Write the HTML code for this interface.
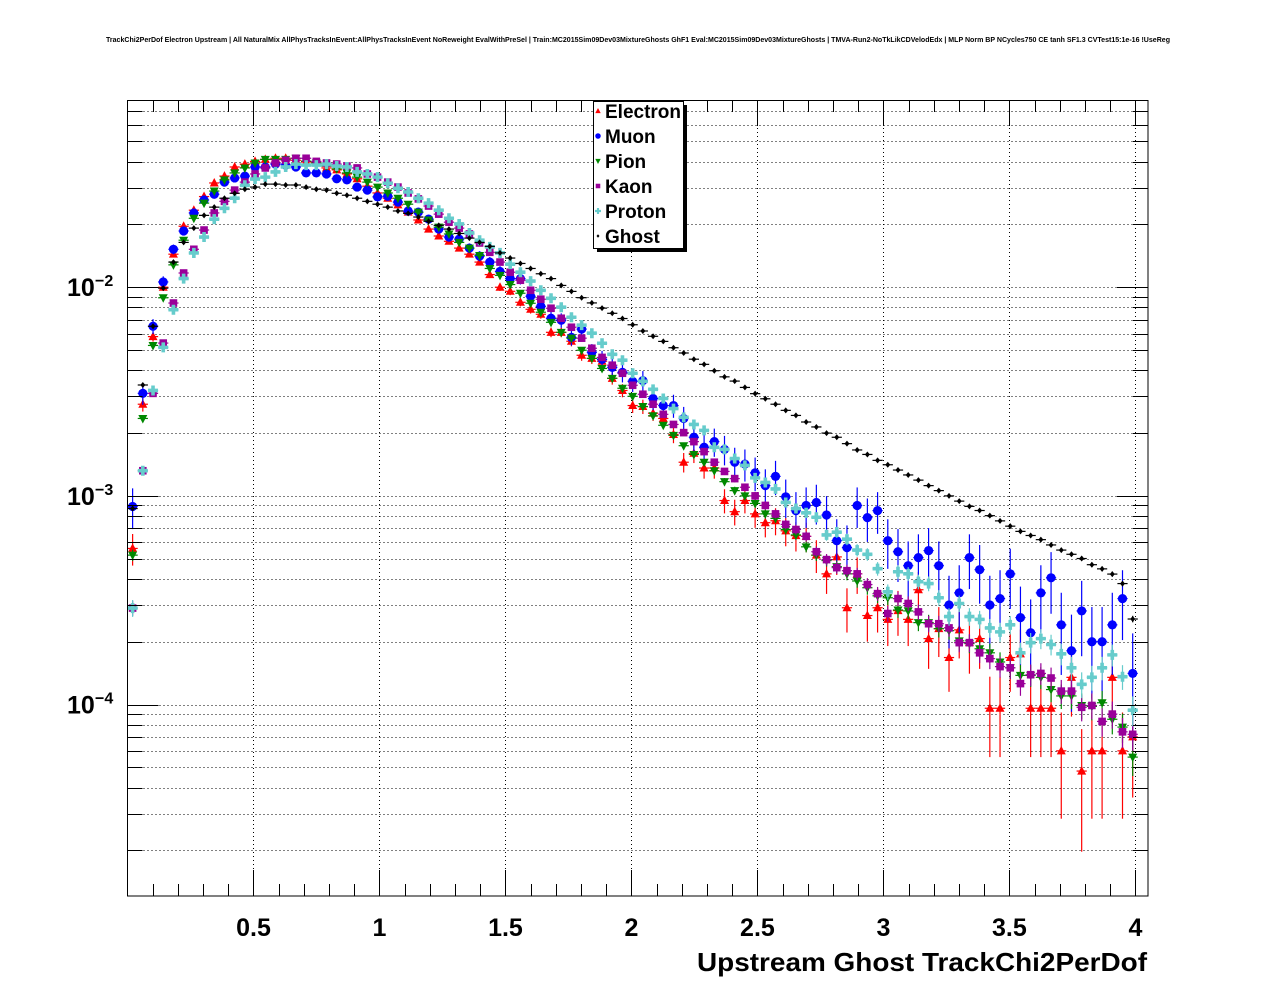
<!DOCTYPE html>
<html><head><meta charset="utf-8"><style>
html,body{margin:0;padding:0;background:#fff}
svg{display:block}
text{font-family:"Liberation Sans",Arial,sans-serif;font-weight:bold}
</style></head><body>
<svg id="c" width="1276" height="996" viewBox="0 0 1276 996" xmlns="http://www.w3.org/2000/svg">
<rect width="1276" height="996" fill="#fff"/>
<text x="106" y="42" font-size="7" textLength="1064" lengthAdjust="spacingAndGlyphs">TrackChi2PerDof Electron Upstream | All NaturalMix AllPhysTracksInEvent:AllPhysTracksInEvent NoReweight EvalWithPreSel | Train:MC2015Sim09Dev03MixtureGhosts GhF1 Eval:MC2015Sim09Dev03MixtureGhosts | TMVA-Run2-NoTkLikCDVelodEdx | MLP Norm BP NCycles750 CE tanh SF1.3 CVTest15:1e-16 !UseReg</text>
<g id="grid"></g>
<g id="data"></g>
<rect x="127.5" y="100.5" width="1020.5" height="795.5" fill="none" stroke="#000" stroke-width="1"/>
<g id="axes"></g>
<text x="1147" y="971" font-size="26" text-anchor="end" textLength="450" lengthAdjust="spacingAndGlyphs">Upstream Ghost TrackChi2PerDof</text>
<g id="legend"></g>
</svg>
<script>
const binStart = 0.0203;
const binWidth = 0.0405;
const seriesNames = ["Electron","Muon","Pion","Kaon","Proton","Ghost"];
const electron = [5.6e-4,2.75e-3,5.8e-3,.0100,.0144,.0196,.0234,.0272,.0316,.0341,.0377,.0389,.0401,.041,.0415,.0415,.0406,.0398,.0394,.0373,.0365,.0349,.0331,.0305,.0283,.0267,.0248,.0229,.021,.0190,.0176,.0166,.0154,.0144,.0132,.0115,.0100,.00956,.00847,.00784,.00742,.00608,.00608,.00551,.00472,.00456,.00442,.00366,.0032,.00271,.00268,.00249,.00235,.00197,.00145,.0016,.00136,.00136,9.5e-4,8.4e-4,9.5e-4,8.2e-4,7.44e-4,7.6e-4,6.8e-4,6.45e-4,6.4e-4,5.2e-4,4.23e-4,5.1e-4,2.91e-4,4.23e-4,2.67e-4,2.91e-4,2.56e-4,2.82e-4,2.56e-4,3.55e-4,2.07e-4,2.31e-4,1.68e-4,2.28e-4,1.98e-4,2.07e-4,9.6e-5,9.6e-5,1.68e-4,1.75e-4,9.6e-5,9.6e-5,9.6e-5,6.0e-5,1.35e-4,4.8e-5,6.0e-5,6.0e-5,1.35e-4,6.0e-5,7.0e-5];
const muon = [8.9e-4,3.1e-3,6.5e-3,.0106,.0152,.0186,.0227,.0262,.0279,.0319,.0334,.0341,.0377,.0377,.0389,.0385,.0377,.0353,.0353,.0349,.0331,.0327,.0302,.0292,.0271,.0273,.0256,.0232,.0229,.0212,.0190,.0174,.0170,.0154,.0141,.0132,.0119,.0110,.0110,.00905,.0081,.0071,.00695,.00575,.0063,.00488,.00451,.00413,.00391,.00354,.00357,.00293,.00271,.00271,.00235,.00191,.00171,.00182,.00167,.00145,.00142,.00129,.00112,.00124,9.9e-4,8.5e-4,9.0e-4,9.3e-4,8.1e-4,6.1e-4,5.65e-4,9.0e-4,7.87e-4,8.5e-4,6.1e-4,5.4e-4,4.63e-4,5.06e-4,5.47e-4,4.63e-4,3.0e-4,3.43e-4,5.06e-4,4.43e-4,3.0e-4,3.22e-4,4.23e-4,2.61e-4,2.21e-4,3.43e-4,4.05e-4,2.41e-4,1.81e-4,2.81e-4,2.0e-4,2.0e-4,2.41e-4,3.22e-4,1.41e-4];
const pion = [5.2e-4,2.35e-3,5.26e-3,.0089,.0128,.0168,.0214,.0253,.0289,.0327,.0353,.0373,.0394,.041,.041,.041,.0415,.0402,.0394,.0381,.0369,.0353,.0337,.0319,.0302,.0283,.0267,.025,.0229,.021,.0194,.018,.0164,.0154,.0142,.0123,.0114,.0103,.00936,.00838,.00759,.00679,.00608,.0057,.00499,.00456,.00408,.00366,.00328,.0030,.00268,.00242,.00218,.00195,.00174,.00158,.00145,.00132,.00117,.00106,.0010,9.2e-4,8.2e-4,7.8e-4,6.9e-4,6.5e-4,5.7e-4,5.2e-4,4.9e-4,4.58e-4,4.23e-4,3.91e-4,3.63e-4,3.32e-4,3.25e-4,2.84e-4,2.81e-4,2.47e-4,2.47e-4,2.31e-4,2.26e-4,2.02e-4,1.96e-4,1.85e-4,1.77e-4,1.6e-4,1.5e-4,1.38e-4,1.38e-4,1.35e-4,1.18e-4,1.1e-4,1.1e-4,9.9e-5,9.8e-5,1.02e-4,8.5e-5,7.8e-5,5.6e-5];
const kaon = [2.9e-4,1.32e-3,3.1e-3,.0054,.0084,.0117,.0152,.0188,.0227,.0258,.0292,.0319,.0349,.0373,.0394,.0406,.0415,.0415,.0401,.0394,.0389,.0381,.0373,.0349,.0337,.0319,.0302,.0283,.0265,.0245,.0224,.0205,.0192,.018,.0163,.0147,.0132,.0118,.0108,.00967,.00876,.00793,.0071,.00643,.0057,.0051,.00461,.00423,.00387,.00339,.00307,.00275,.00246,.0022,.00201,.00182,.00163,.00145,.00131,.00121,.0011,.0010,9.0e-4,8.2e-4,7.3e-4,6.9e-4,6.4e-4,5.4e-4,4.95e-4,4.53e-4,4.38e-4,4.23e-4,3.76e-4,3.4e-4,2.73e-4,3.22e-4,3.05e-4,2.78e-4,2.44e-4,2.44e-4,2.33e-4,1.98e-4,1.98e-4,1.77e-4,1.66e-4,1.52e-4,1.5e-4,1.26e-4,1.39e-4,1.41e-4,1.34e-4,1.16e-4,1.16e-4,9.7e-5,9.9e-5,8.3e-5,9.0e-5,7.4e-5,7.2e-5];
const proton = [2.9e-4,1.32e-3,3.2e-3,5.15e-3,7.8e-3,.0110,.0146,.0174,.0212,.0239,.0267,.0308,.0330,.0337,.0357,.0377,.0389,.0385,.0385,.0389,.0381,.0377,.0357,.0349,.0337,.0315,.0298,.0286,.0267,.0253,.0234,.0214,.0201,.0182,.0168,.0156,.0146,.0129,.0118,.0107,.00967,.00885,.00802,.00718,.00658,.00602,.00539,.00477,.00447,.00387,.00354,.00324,.00293,.00262,.00238,.0022,.00206,.00171,.00167,.00151,.0014,.00122,.00116,.00108,9.3e-4,8.7e-4,8.3e-4,7.9e-4,6.5e-4,6.7e-4,6.2e-4,5.5e-4,5.25e-4,4.48e-4,3.47e-4,4.33e-4,4.23e-4,3.88e-4,3.8e-4,3.25e-4,2.64e-4,3.05e-4,2.64e-4,2.56e-4,2.33e-4,2.23e-4,2.41e-4,1.77e-4,1.98e-4,2.07e-4,1.94e-4,1.75e-4,1.5e-4,1.25e-4,1.35e-4,1.5e-4,1.73e-4,1.36e-4,9.4e-5];
const ghost = [8.7e-4,3.4e-3,6.5e-3,9.9e-3,.0132,.0164,.0192,.0221,.0242,.0267,.0282,.0295,.0302,.0312,.0312,.0309,.0309,.0302,.0295,.0292,.0282,.0276,.0267,.0258,.0250,.0242,.0232,.0226,.0217,.0207,.0198,.0190,.0181,.0172,.0164,.0157,.0146,.0138,.0130,.0123,.0116,.0110,.0102,.00955,.00891,.00841,.00794,.0075,.00708,.00661,.00617,.00582,.0055,.00513,.00484,.00452,.00427,.00398,.00372,.00355,.00331,.00309,.00292,.00275,.00257,.00243,.00226,.00214,.0020,.00191,.00178,.00166,.00158,.00148,.00141,.00133,.00126,.00119,.00112,.00106,.0010,9.44e-4,8.91e-4,8.51e-4,8.04e-4,7.59e-4,7.16e-4,6.76e-4,6.46e-4,6.17e-4,5.82e-4,5.5e-4,5.25e-4,5.01e-4,4.68e-4,4.47e-4,4.22e-4,3.8e-4,2.57e-4];
const normCounts = [60000,23000,500000,500000,400000,3000000];
const xTickLabels = ["0.5","1","1.5","2","2.5","3","3.5","4"];
const yTickExps = ["−2","−3","−4"];

const NS="http://www.w3.org/2000/svg";
const X0=127.5,X1=1148,Y0=896,Y1=100;
const XMIN=0,XMAX=4.05, LMIN=-4.9175, LMAX=-1.1027;
function sx(x){return X0+(x-XMIN)/(XMAX-XMIN)*(X1-X0);}
function sy(v){return Y0-(Math.log10(v)-LMIN)/(LMAX-LMIN)*(Y0-Y1);}
function mk(tag,attrs,parent){const e=document.createElementNS(NS,tag);for(const k in attrs)e.setAttribute(k,attrs[k]);parent.appendChild(e);return e;}
const grid=document.getElementById('grid'),axes=document.getElementById('axes'),data=document.getElementById('data'),leg=document.getElementById('legend');

// x grid & ticks
for(let i=1;i<=40;i++){
  const x=i*0.1, p=Math.round(sx(x))+0.5; if(p>X1) break;
  const major=(i%5===0);
  if(major){const g=mk('line',{x1:p,x2:p,y1:Y1,y2:Y0,stroke:'#000','stroke-dasharray':'1,3'},grid);
    }
  const L=major?26:12;
  const t=mk('line',{x1:p,x2:p,y1:Y0,y2:Y0-L,stroke:'#000'},axes);
  
  const t2=mk('line',{x1:p,x2:p,y1:Y1,y2:Y1+L,stroke:'#000'},axes);
  
}
xTickLabels.forEach(s=>{
  const t=mk('text',{x:sx(parseFloat(s)),y:936,'font-size':25,'text-anchor':'middle'},axes);
  t.textContent=s;
  
});
// y grid & ticks
for(let e=-5;e<=-1;e++){
  for(let m=1;m<=9;m++){
    const v=m*Math.pow(10,e), L=Math.log10(v); if(L<LMIN||L>LMAX) continue;
    const p=Math.round(sy(v))+0.5;
    const g=mk('line',{x1:X0,x2:X1,y1:p,y2:p,stroke:'#000','stroke-dasharray':'1,3'},grid);
    
    const len=(m===1)?31:15;
    const t=mk('line',{x1:X0,x2:X0+len,y1:p,y2:p,stroke:'#000'},axes);
    
    const t2=mk('line',{x1:X1,x2:X1-len,y1:p,y2:p,stroke:'#000'},axes);
    
  }
}
yTickExps.forEach(s=>{
  const e=-parseInt(s.replace('−',''));
  const p=sy(Math.pow(10,e));
  const t=mk('text',{x:67,y:p+9,'font-size':25},axes);
  t.textContent='10';
  
  const t2=mk('text',{x:95,y:p-1,'font-size':16},axes);
  t2.textContent=s;
  
});

const colors=['#ff0000','#0000ff','#008800','#990099','#66cccc','#000000'];
function marker(kind,x,y,c,parent,s){
  s=s||1;let e;
  if(kind===0) e=mk('path',{d:`M${x},${y-5*s}L${x+4.5*s},${y+3.5*s}L${x-4.5*s},${y+3.5*s}Z`,fill:c},parent);
  else if(kind===1) e=mk('circle',{cx:x,cy:y,r:4.6*s,fill:c},parent);
  else if(kind===2) e=mk('path',{d:`M${x},${y+5*s}L${x+4.5*s},${y-3.5*s}L${x-4.5*s},${y-3.5*s}Z`,fill:c},parent);
  else if(kind===3) e=mk('rect',{x:x-3.8*s,y:y-3.8*s,width:7.6*s,height:7.6*s,fill:c},parent);
  else if(kind===4) e=mk('path',{d:`M${x-1.8*s},${y-5*s}h${3.6*s}v${3.2*s}h${3.2*s}v${3.6*s}h${-3.2*s}v${3.2*s}h${-3.6*s}v${-3.2*s}h${-3.2*s}v${-3.6*s}h${3.2*s}Z`,fill:c},parent);
  else e=mk('path',{d:`M${x},${y-3*s}L${x+2.5*s},${y}L${x},${y+3*s}L${x-2.5*s},${y}Z`,fill:c},parent);
  return e;
}
const allSeries=[electron,muon,pion,kaon,proton,ghost];
allSeries.forEach((arr,si)=>{
  const g=mk('g',{},data);
  
  
  const c=colors[si];
  arr.forEach((v,k)=>{
    if(!(v>0)) return;
    const xc=binStart+binWidth*k;
    const px=sx(xc), py=sy(v);
    const rel=1/Math.sqrt(v*normCounts[si]);
    const up=sy(v*(1+rel)), dn=sy(Math.max(v*(1-rel),1e-6));
    const hb=mk('line',{x1:sx(xc-binWidth/2),x2:sx(xc+binWidth/2),y1:py,y2:py,stroke:c,'stroke-width':1.2},g);
    
    const vb=mk('line',{x1:px,x2:px,y1:up,y2:Math.min(dn,Y0),stroke:c,'stroke-width':1.2},g);
    
    const m=marker(si,px,py,c,g);
    
    
  });
});

// legend
const sh=mk('rect',{x:597,y:105,width:90,height:147,fill:'#000'},leg);

const bx=mk('rect',{x:593.5,y:101.5,width:90,height:147,fill:'#fff',stroke:'#000'},leg);

seriesNames.forEach((n,i)=>{
  const y=111+25*i;
  const m=marker(i,598,y,colors[i],leg,0.6);
  
  const t=mk('text',{x:605,y:y+7,'font-size':19},leg);
  t.textContent=n;
  
});
</script>
</body></html>
